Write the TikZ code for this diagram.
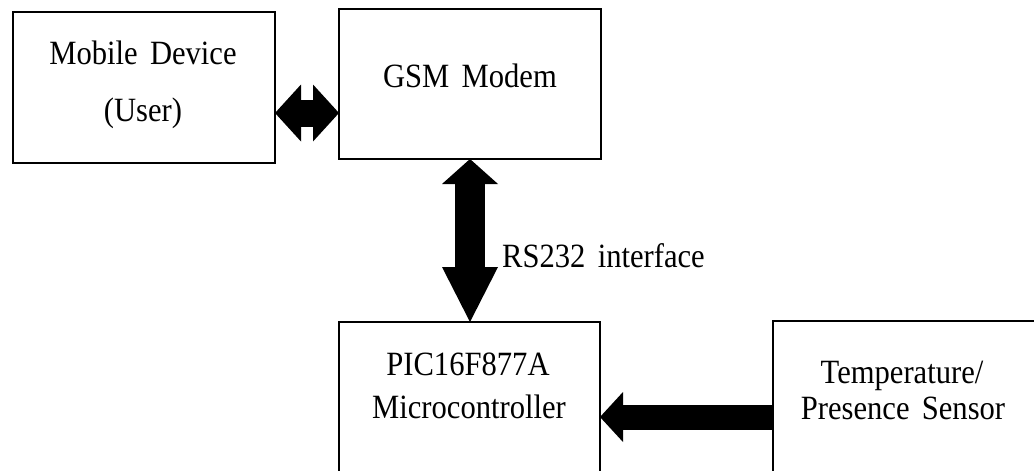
\documentclass[tikz,border=0pt]{standalone}
\usepackage{fontspec}
\setmainfont{Liberation Serif}[FakeStretch=0.9, WordSpace=1.6]
\usetikzlibrary{arrows.meta}

\begin{document}
\begin{tikzpicture}[x=1pt, y=-1pt,
  every node/.style={font=\fontsize{34}{40}\selectfont},
  blk/.style={draw, line width=2.5pt, anchor=north west, inner sep=0pt, outer sep=0pt},
  lbl/.style={anchor=base, inner sep=0pt},
  dblh/.style={line width=27pt, arrows={Triangle[width=57pt,length=26pt,line width=0pt]-Triangle[width=57pt,length=26pt,line width=0pt]}},
  vert/.style={line width=30pt, arrows={Triangle[width=56pt,length=25pt,line width=0pt]-Triangle[width=56pt,length=55pt,line width=0pt]}},
  sgl/.style={line width=25pt, arrows={-Triangle[width=50pt,length=23pt,line width=0pt]}}]
  \useasboundingbox (0,0) rectangle (1034,471);
  % blocks
  \node[blk, minimum width=262pt, minimum height=151pt] (mob) at (13,12) {};
  \node[blk, minimum width=262pt, minimum height=150pt] (gsm) at (339,9) {};
  \node[blk, minimum width=261pt, minimum height=200pt] (pic) at (339,322) {};
  \node[blk, minimum width=300pt, minimum height=200pt] (sens) at (773,321) {};
  % texts
  \node[lbl] (mobA) at (143,64) {Mobile Device};
  \node[lbl] (mobB) at (143,121) {(User)};
  \node[lbl] (gsmA) at (470,87) {GSM Modem};
  \node[lbl] (picA) at (468,375) {PIC16F877A};
  \node[lbl] (picB) at (469,418) {Microcontroller};
  \node[lbl] (sensA) at (902,383) {Temperature/};
  \node[lbl] (sensB) at (903,419) {Presence Sensor};
  \node[lbl, anchor=base west] (rs) at (502,267) {RS232 interface};
  % links
  \coordinate (ya) at (0,113);
  \coordinate (yb) at (0,417);
  \draw[dblh] (mob.east |- ya) -- (gsm.west |- ya);
  \draw[vert] (gsm.south) -- (gsm.south |- pic.north);
  \draw[sgl] (sens.west |- yb) -- (pic.east |- yb);
\end{tikzpicture}
\end{document}
